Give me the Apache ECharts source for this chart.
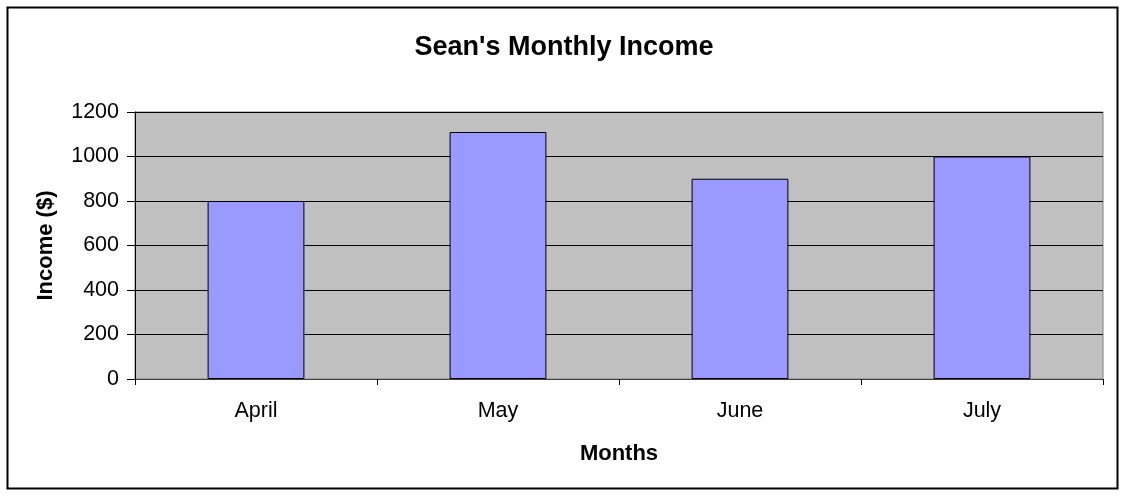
<!DOCTYPE html>
<html>
<head>
<meta charset="utf-8">
<script src="https://cdn.jsdelivr.net/npm/echarts@6/dist/echarts.min.js"></script>
<style>
  html, body { margin: 0; padding: 0; background: #fff; }
  #chart { width: 1128px; height: 498px; }
</style>
</head>
<body>
<div id="chart"></div>
<script>
var months = ['April', 'May', 'June', 'July'];
var income = [800, 1110, 900, 1000];

var font = '"Liberation Sans", Arial, sans-serif';
var myChart = echarts.init(document.getElementById('chart'));

var option = {
    backgroundColor: '#fff',
    animation: false,
    title: {
        text: "Sean's Monthly Income",
        left: 'center',
        top: 29,
        textStyle: {
            fontFamily: font,
            fontSize: 27,
            fontWeight: 'bold',
            color: '#000'
        }
    },
    graphic: [
        {
            type: 'rect',
            shape: { x: 7.5, y: 7.5, width: 1110, height: 481 },
            style: { fill: 'none', stroke: '#000', lineWidth: 2 },
            silent: true
        }
    ],
    grid: {
        left: 135,
        right: 25,
        top: 112,
        bottom: 119,
        show: true,
        backgroundColor: '#c0c0c0',
        borderColor: '#808080',
        borderWidth: 1
    },
    xAxis: {
        type: 'category',
        data: months,
        name: 'Months',
        nameLocation: 'middle',
        nameGap: 64,
        nameTextStyle: {
            fontFamily: font,
            fontSize: 22,
            fontWeight: 'bold',
            color: '#000'
        },
        axisLine: { show: true, lineStyle: { color: '#404040', width: 1 } },
        axisTick: { show: true, alignWithLabel: false, length: 6, lineStyle: { color: '#000' } },
        axisLabel: {
            fontFamily: font,
            fontSize: 21.5,
            color: '#000',
            margin: 21
        }
    },
    yAxis: {
        type: 'value',
        min: 0,
        max: 1200,
        interval: 200,
        name: 'Income ($)',
        nameLocation: 'middle',
        nameGap: 78,
        nameTextStyle: {
            fontFamily: font,
            fontSize: 22,
            fontWeight: 'bold',
            color: '#000'
        },
        axisLine: { show: true, lineStyle: { color: '#000', width: 1 } },
        axisTick: { show: true, length: 8, lineStyle: { color: '#000' } },
        axisLabel: {
            fontFamily: font,
            fontSize: 21.5,
            color: '#000',
            margin: 16,
            formatter: function (v) { return String(v); }
        },
        splitLine: { show: true, lineStyle: { color: '#000', width: 1 } }
    },
    series: [
        {
            type: 'bar',
            data: income,
            barWidth: '40%',
            itemStyle: {
                color: '#9999ff',
                borderColor: '#000',
                borderWidth: 1
            }
        }
    ]
};

myChart.setOption(option);
</script>
</body>
</html>
